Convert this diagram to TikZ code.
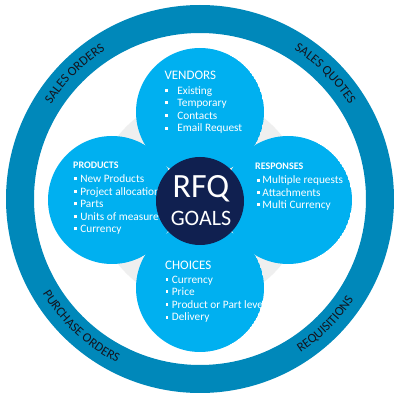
\documentclass[tikz,border=0pt]{standalone}
\usepackage{fontspec}
\setmainfont{Carlito}
\usetikzlibrary{decorations.text,calc}
\definecolor{ringblue}{RGB}{0,136,186}
\definecolor{lightblue}{RGB}{0,176,240}
\definecolor{navy}{RGB}{16,32,80}
\definecolor{bggray}{RGB}{239,239,239}
\definecolor{ringtext}{RGB}{20,20,30}
\newcommand{\bul}{\rule[2.4pt]{2.8pt}{2.8pt}}
\newcommand{\ringfont}{\fontsize{13}{15}\selectfont}
\tikzset{
  itemtext/.style={anchor=base west, inner sep=0pt, text=white, font=\fontsize{11.3}{13}\selectfont},
  headreg/.style={anchor=base west, inner sep=0pt, text=white, font=\fontsize{13}{15}\selectfont},
  headbold/.style={anchor=base west, inner sep=0pt, text=white, font=\bfseries\fontsize{10}{12}\selectfont},
  bubble/.style={fill=lightblue},
  ringlabel/.style={decorate, decoration={text along path, text align=center, text color=ringtext, text={|\ringfont|#1}}}
}
\begin{document}
\begin{tikzpicture}
\useasboundingbox (0,0) rectangle (400pt,400pt);
\fill[white] (0,0) rectangle (400pt,400pt);
\coordinate (C) at (200pt,201pt);
\coordinate (M) at (200pt,200pt);
\coordinate (V) at (200pt,288pt);
\coordinate (P) at (112pt,200pt);
\coordinate (R) at (288pt,200pt);
\coordinate (H) at (200pt,112pt);
% outer ring
\fill[ringblue, even odd rule] (C) circle[radius=194pt] (C) circle[radius=166pt];
% gray backdrop
\fill[bggray] (M) circle[radius=104pt];
% vendors
\begin{scope}
  \clip (V) circle[radius=64pt];
  \fill[bubble] (V) circle[radius=64pt];
  \node[headreg] (vh) at (164.3pt,320.7pt) {VENDORS};
  \node[itemtext] (v1) at (165pt,305.3pt) {\bul\hspace{9.4pt}Existing};
  \node[itemtext] (v2) at (165pt,293.3pt) {\bul\hspace{9.4pt}Temporary};
  \node[itemtext] (v3) at (165pt,280.7pt) {\bul\hspace{9.4pt}Contacts};
  \node[itemtext] (v4) at (165pt,268pt) {\bul\hspace{9.4pt}Email Request};
\end{scope}
% products
\begin{scope}
  \clip (P) circle[radius=64pt];
  \fill[bubble] (P) circle[radius=64pt];
  \node[headbold] (ph) at (73pt,231.3pt) {PRODUCTS};
  \node[itemtext] (p1) at (74pt,217.3pt) {\bul\hspace{3.3pt}New Products};
  \node[itemtext] (p2) at (74pt,204.7pt) {\bul\hspace{3.3pt}Project allocation};
  \node[itemtext] (p3) at (74pt,192.3pt) {\bul\hspace{3.3pt}Parts};
  \node[itemtext] (p4) at (74pt,179.3pt) {\bul\hspace{3.3pt}Units of measure};
  \node[itemtext] (p5) at (74pt,167.3pt) {\bul\hspace{3.3pt}Currency};
\end{scope}
% responses
\begin{scope}
  \clip (R) circle[radius=64pt];
  \fill[bubble] (R) circle[radius=64pt];
  \node[headbold] (rh) at (255pt,230.7pt) {RESPONSES};
  \node[itemtext] (r1) at (256.5pt,216pt) {\bul\hspace{3pt}Multiple requests};
  \node[itemtext] (r2) at (256.5pt,204pt) {\bul\hspace{3pt}Attachments};
  \node[itemtext] (r3) at (256.5pt,191.7pt) {\bul\hspace{3pt}Multi Currency};
\end{scope}
% choices
\begin{scope}
  \clip (H) circle[radius=64pt];
  \fill[bubble] (H) circle[radius=64pt];
  \node[headreg] (hh) at (165pt,130pt) {CHOICES};
  \node[itemtext] (h1) at (165.3pt,116.7pt) {\bul\hspace{3.6pt}Currency};
  \node[itemtext] (h2) at (165.3pt,104.7pt) {\bul\hspace{3.6pt}Price};
  \node[itemtext] (h3) at (165.3pt,91.7pt) {\bul\hspace{3.6pt}Product or Part level};
  \node[itemtext] (h4) at (165.3pt,79pt) {\bul\hspace{3.6pt}Delivery};
\end{scope}
% center
\node[circle, fill=navy, minimum size=88pt, inner sep=0pt] (goal) at (200pt,199pt) {};
\node[anchor=base, inner sep=0pt, text=white, font=\fontsize{34}{34}\selectfont] (rfq) at (201pt,202.3pt) {RFQ};
\node[anchor=base, inner sep=0pt, text=white, font=\fontsize{22}{22}\selectfont] (goals) at (201pt,174.7pt) {GOALS};
% ring labels
\path[ringlabel={SALES ORDERS}] ([shift={(C)}]180:176.5pt) arc[start angle=180, end angle=90, radius=176.5pt];
\path[ringlabel={SALES QUOTES}] ([shift={(C)}]90:176.5pt) arc[start angle=90, end angle=0, radius=176.5pt];
\path[ringlabel={PURCHASE ORDERS}] ([shift={(C)}]182:183.5pt) arc[start angle=182, end angle=272, radius=183.5pt];
\path[ringlabel={REQUISITIONS}] ([shift={(C)}]270:183.5pt) arc[start angle=270, end angle=360, radius=183.5pt];
\end{tikzpicture}
\end{document}
